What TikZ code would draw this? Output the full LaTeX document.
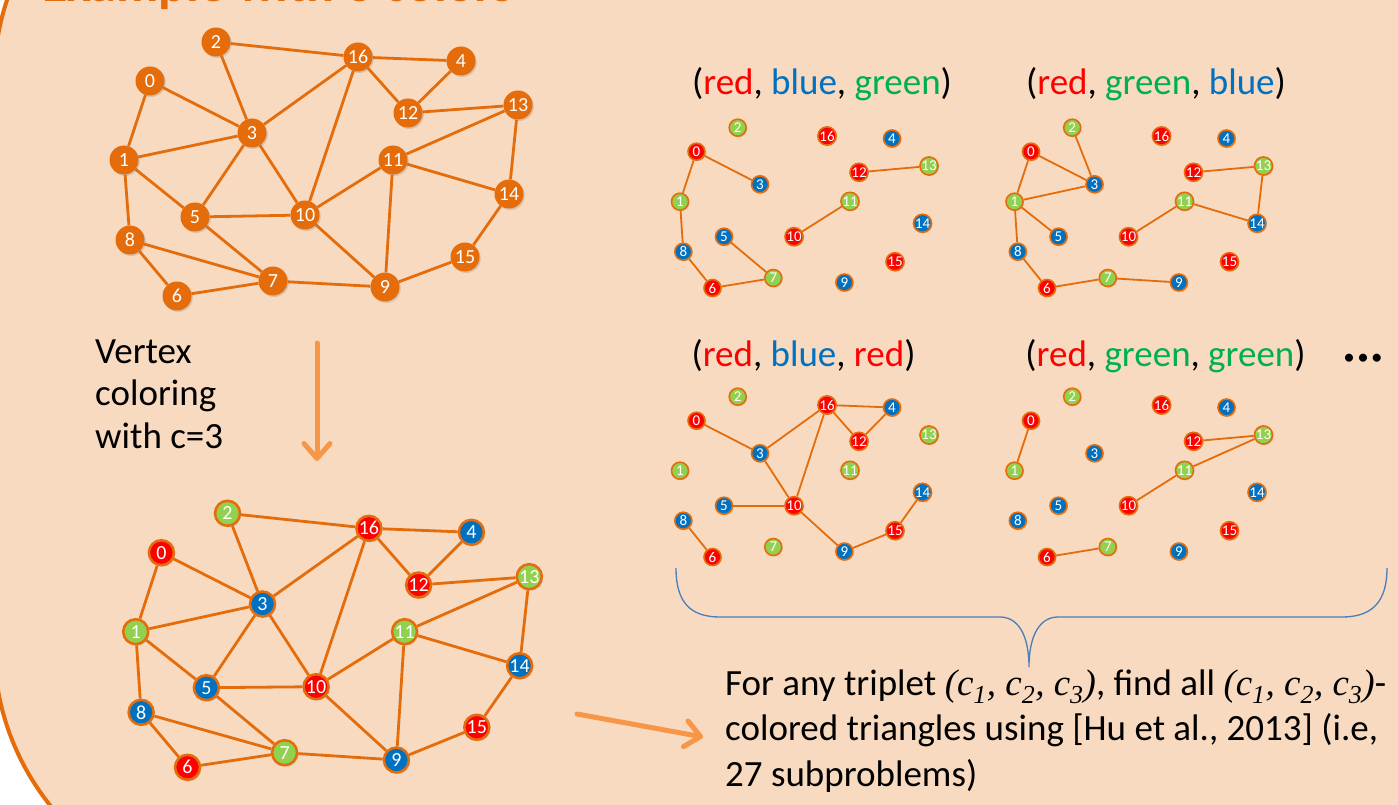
\documentclass[tikz,border=0pt]{standalone}
\usepackage{fontspec}
\setmainfont{Carlito}
\newfontfamily\serifit{Liberation Serif}
\usetikzlibrary{shadows,arrows.meta}

\definecolor{panelfill}{HTML}{F8DAC0}
\definecolor{darkorange}{HTML}{E46C0A}
\definecolor{lightorange}{HTML}{F79646}
\definecolor{vred}{HTML}{FF0000}
\definecolor{vblue}{HTML}{0070C0}
\definecolor{vgreen}{HTML}{92D050}
\definecolor{tgreen}{HTML}{00B050}
\definecolor{braceblue}{HTML}{4A7EBB}

\pgfdeclarelayer{back}
\pgfdeclarelayer{edges}
\pgfsetlayers{back,edges,main}

\tikzset{
  vshadow/.style={drop shadow={shadow xshift=1.3pt, shadow yshift=-1.5pt, opacity=0.28}},
  topnode/.style={circle, minimum size=29pt, inner sep=0pt, fill=darkorange,
    text=white, font=\fontsize{20}{20}\selectfont, vshadow},
  colnode/.style={circle, minimum size=25pt, inner sep=0pt, draw=darkorange,
    line width=2.5pt, text=white, font=\fontsize{20}{20}\selectfont, vshadow},
  smallnode/.style={circle, minimum size=17pt, inner sep=0pt, draw=darkorange,
    line width=1.6pt, text=white, font=\fontsize{15}{15}\selectfont,
    drop shadow={shadow xshift=1pt, shadow yshift=-1pt, opacity=0.28}},
  bigedge/.style={draw=darkorange, line width=2.8pt},
  smalledge/.style={draw=darkorange, line width=1.8pt},
  bigarrow/.style={draw=lightorange, line width=5pt, line cap=round,
    -{Straight Barb[round, length=15pt, width=26pt]}},
  bodytext/.style={anchor=base west, inner sep=0pt, font=\fontsize{37}{43}\selectfont},
  titletext/.style={anchor=base, inner sep=0pt, font=\fontsize{37}{43}\selectfont},
}

% vertex positions of the two large graphs and of the small graph panels
\newcommand\toppos{0/150/81, 1/124/160, 2/216/42, 3/252/133, 4/461/61, 5/195/217,
  6/177/296, 7/273/281, 8/130/240, 9/385/287, 10/305/215, 11/393/160, 12/408/113,
  13/518/105, 14/509/194, 15/465/257, 16/358/57}
\newcommand\botpos{0/161.4/552.7/vred, 1/135.7/631.7/vgreen, 2/227.5/513.3/vgreen,
  3/262.5/604/vblue, 4/471.4/532.3/vblue, 5/206.4/687.7/vblue, 6/187.5/767.3/vred,
  7/284.6/752.7/vgreen, 8/141.1/712.3/vblue, 9/396.4/760/vblue, 10/316.1/686.7/vred,
  11/404.6/631.7/vgreen, 12/418.6/585/vred, 13/529.3/576.7/vgreen,
  14/519.6/665.7/vblue, 15/476.8/727.3/vred, 16/368.9/528.3/vred}
\newcommand\smallpos{0/696.5/151.7/vred, 1/680/201.7/vgreen, 2/737.7/127.7/vgreen,
  3/760/184.3/vblue, 4/892/138.5/vblue, 5/724/236.7/vblue, 6/712.5/288/vred,
  7/773.3/278/vgreen, 8/683.3/251.7/vblue, 9/844.4/282.5/vblue, 10/794/236.7/vred,
  11/850/201.3/vgreen, 12/859/172.3/vred, 13/929/166/vgreen, 14/922.5/223.3/vblue,
  15/895/261.7/vred, 16/827/136/vred}
\newcommand\graphedges{2/16, 16/4, 2/3, 0/3, 0/1, 1/3, 3/16, 16/10, 16/12, 4/12,
  12/13, 13/11, 13/14, 11/14, 11/10, 11/9, 3/5, 3/10, 1/5, 1/8, 5/10, 5/7, 8/7,
  8/6, 6/7, 7/9, 10/9, 9/15, 15/14}

% one small panel: name prefix, shift, list of highlighted edges
\newcommand\smallpanel[3]{%
  \begin{scope}[shift={#2}]
    \foreach \n/\px/\py/\col in \smallpos {\node[smallnode, fill=\col] (#1\n) at (\px,\py) {\n};}
    \begin{pgfonlayer}{edges}
      \foreach \a/\b in {#3} {\draw[smalledge] (#1\a) -- (#1\b);}
    \end{pgfonlayer}
  \end{scope}}

\newcommand\trip{{\serifit\itshape (c\textsubscript{1}, c\textsubscript{2}, c\textsubscript{3})}}

\begin{document}
\begin{tikzpicture}[x=1pt,y=-1pt]
\useasboundingbox (0,0) rectangle (1398,805);

% background panel; the heading runs off the top edge
\begin{pgfonlayer}{back}
  \fill[white] (0,0) rectangle (1398,805);
  \draw[fill=panelfill, draw=darkorange, line width=4pt, rounded corners=257pt]
    (-6,-176) rectangle (1760,902);
  \node[anchor=base west, inner sep=0pt, text=darkorange,
        font=\fontsize{52}{52}\selectfont\bfseries] (title) at (42,1.5) {Example with 3 colors};
\end{pgfonlayer}

% input graph
\foreach \n/\px/\py in \toppos {\node[topnode] (t\n) at (\px,\py) {\n};}
\begin{pgfonlayer}{edges}
  \foreach \a/\b in \graphedges {\draw[bigedge] (t\a) -- (t\b);}
\end{pgfonlayer}

% colored graph
\foreach \n/\px/\py/\col in \botpos {\node[colnode, fill=\col] (b\n) at (\px,\py) {\n};}
\begin{pgfonlayer}{edges}
  \foreach \a/\b in \graphedges {\draw[bigedge] (b\a) -- (b\b);}
\end{pgfonlayer}

% coloring step
\node[bodytext] (l1) at (95,363) {Vertex};
\node[bodytext] (l2) at (95,405.5) {coloring};
\node[bodytext] (l3) at (95,448) {with c=3};
\coordinate (va) at (317,343);
\coordinate (vb) at (317,461);
\draw[bigarrow] (va) -- (vb);

% color triplet panels
\node[titletext] (h1) at (822,95) {(\textcolor{vred}{red}, \textcolor{vblue}{blue}, \textcolor{tgreen}{green})};
\node[titletext] (h2) at (1156,95) {(\textcolor{vred}{red}, \textcolor{tgreen}{green}, \textcolor{vblue}{blue})};
\node[titletext] (h3) at (803.5,366) {(\textcolor{vred}{red}, \textcolor{vblue}{blue}, \textcolor{vred}{red})};
\node[titletext] (h4) at (1165.5,366) {(\textcolor{vred}{red}, \textcolor{tgreen}{green}, \textcolor{tgreen}{green})};
\node[anchor=base, inner sep=0pt, font=\fontsize{19}{19}\selectfont\bfseries] (dots) at (1363,363)
  {•\hspace{4.5pt}•\hspace{4.5pt}•};

\smallpanel{p}{(0,0)}{0/1, 0/3, 1/8, 8/6, 6/7, 7/5, 12/13, 10/11}
\smallpanel{q}{(334.5,0)}{0/1, 0/3, 2/3, 1/3, 1/5, 1/8, 8/6, 6/7, 7/9, 12/13, 13/14, 11/14, 10/11}
\smallpanel{r}{(0,269)}{0/3, 3/16, 3/10, 16/10, 16/4, 16/12, 12/4, 5/10, 10/9, 9/15, 15/14, 8/6}
\smallpanel{s}{(334.5,269)}{0/1, 12/13, 13/11, 11/10, 6/7}

% brace under the panels
\coordinate (bl) at (676,568);
\coordinate (bm) at (1029,667);
\coordinate (br) at (1387,568);
\draw[braceblue, line width=1.3pt]
  (bl) .. controls (676,602) and (690,617) .. (720,617) -- (1000,617)
  .. controls (1018,617) and (1029,635) .. (bm)
  .. controls (1029,635) and (1040,617) .. (1058,617) -- (1342,617)
  .. controls (1372,617) and (1387,602) .. (br);

% result text
\coordinate (ha) at (577,714);
\coordinate (hb) at (703,737);
\draw[bigarrow] (ha) -- (hb);
\node[bodytext] (r1) at (725,695) {For any triplet \trip, find all \trip-};
\node[bodytext] (r2) at (725,740) {colored triangles using [Hu et al., 2013] (i.e,};
\node[bodytext] (r3) at (725,786) {27 subproblems)};
\end{tikzpicture}
\end{document}
